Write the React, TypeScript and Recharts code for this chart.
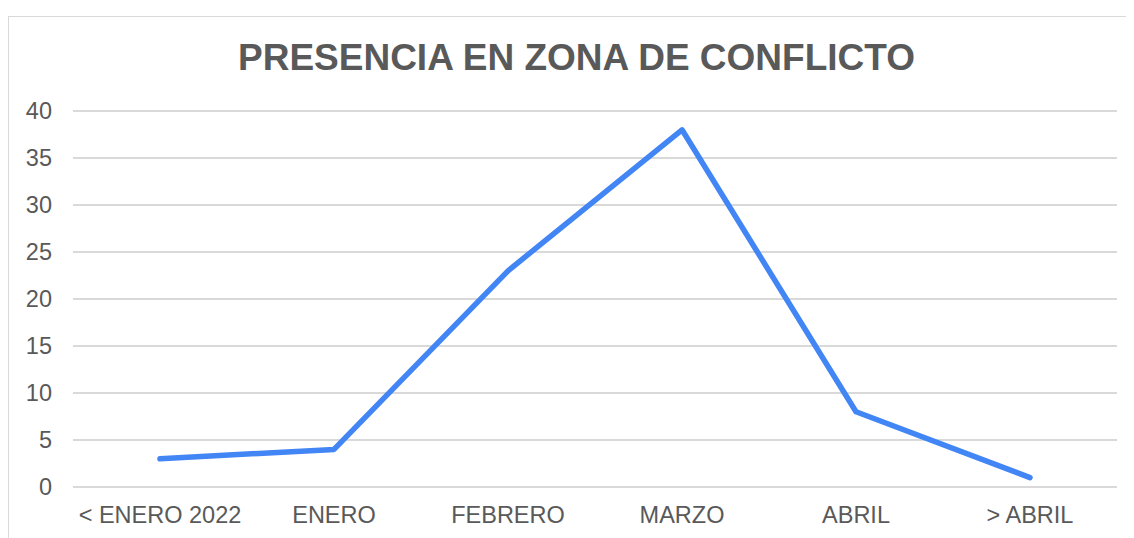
import { CartesianGrid, Line, LineChart, XAxis, YAxis } from "recharts";

const categories = ["< ENERO 2022", "ENERO", "FEBRERO", "MARZO", "ABRIL", "> ABRIL"];
const presencia = [3, 4, 23, 38, 8, 1];
const yTicks = [0, 5, 10, 15, 20, 25, 30, 35, 40];

const data = categories.map((name, i) => ({ name, value: presencia[i] }));

const FONT = "'Liberation Sans', Arial, sans-serif";
const TEXT = "#595959";

export default function App() {
	return (
		<div
			style={{
				position: "relative",
				marginTop: 8,
				width: 1125,
				height: 521,
				borderLeft: "1px solid #d9d9d9",
				borderTop: "1px solid #d9d9d9",
				fontFamily: FONT,
			}}
		>
			<style>{"html,body{overflow:hidden}"}</style>
			<div
				style={{
					position: "absolute",
					left: 0,
					top: 22,
					width: 1135,
					textAlign: "center",
					fontSize: 37,
					lineHeight: 1,
					fontWeight: 700,
					color: TEXT,
				}}
			>
				PRESENCIA EN ZONA DE CONFLICTO
			</div>
			<LineChart
				width={1125}
				height={521}
				data={data}
				margin={{ top: 94, right: 17, left: 0, bottom: 0 }}
			>
				<CartesianGrid vertical={false} stroke="#d9d9d9" strokeWidth={2} />
				<XAxis
					dataKey="name"
					height={51}
					axisLine={false}
					tickLine={false}
					tickMargin={13}
					padding={{ left: 87, right: 87 }}
					tick={{ fill: TEXT, fontSize: 23.5, fontFamily: FONT }}
				/>
				<YAxis
					width={64}
					domain={[0, 40]}
					ticks={yTicks}
					axisLine={false}
					tickLine={false}
					tickMargin={15}
					tick={{ fill: TEXT, fontSize: 23.5, fontFamily: FONT }}
				/>
				<Line
					type="linear"
					dataKey="value"
					stroke="#4285f4"
					strokeWidth={5.5}
					strokeLinecap="round"
					strokeLinejoin="round"
					dot={false}
					activeDot={false}
					isAnimationActive={false}
				/>
			</LineChart>
		</div>
	);
}
